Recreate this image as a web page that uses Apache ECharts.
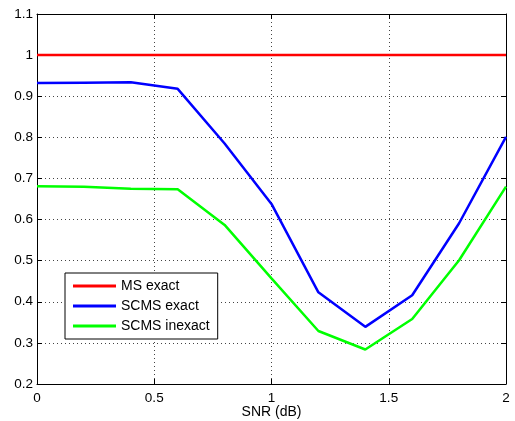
<!DOCTYPE html>
<html>
<head>
<meta charset="utf-8">
<script src="https://cdn.jsdelivr.net/npm/echarts@6/dist/echarts.min.js"></script>
<style>
  html, body { margin: 0; padding: 0; background: #fff; }
  #chart { width: 515px; height: 421px; }
</style>
</head>
<body>
<div id="chart"></div>
<script>
// SNR values (dB)
const snr = [0, 0.2, 0.4, 0.6, 0.8, 1.0, 1.2, 1.4, 1.6, 1.8, 2.0];
const msExact = [1, 1, 1, 1, 1, 1, 1, 1, 1, 1, 1];
const scmsExact = [0.932, 0.933, 0.934, 0.918, 0.785, 0.638, 0.423, 0.339, 0.416, 0.591, 0.801];
const scmsInexact = [0.681, 0.680, 0.675, 0.674, 0.587, 0.457, 0.329, 0.284, 0.358, 0.501, 0.680];
const seriesNames = ['MS exact', 'SCMS exact', 'SCMS inexact'];
const seriesColors = ['#ff0000', '#0000ff', '#00ff00'];

const font = "'Liberation Sans', Arial, sans-serif";
const pairs = arr => snr.map((x, i) => [x, arr[i]]);

const gridLine = { show: true, lineStyle: { color: '#444', type: [1, 3], width: 1 } };
const frame = { show: true, onZero: false, lineStyle: { color: '#000', width: 1 } };
const ticks = { show: true, inside: true, length: 5, lineStyle: { color: '#000' } };

const option = {
  animation: false,
  backgroundColor: '#fff',
  grid: { left: 37, right: 9, top: 14, bottom: 37, containLabel: false, outerBoundsMode: 'none' },
  legend: {
    orient: 'vertical',
    left: 65,
    top: 273,
    padding: [6, 8, 6, 8],
    itemGap: 6,
    itemWidth: 43,
    itemHeight: 3,
    icon: 'rect',
    borderColor: '#000',
    borderWidth: 1,
    backgroundColor: '#fff',
    textStyle: { fontFamily: font, fontSize: 14, color: '#000', lineHeight: 14, padding: [0, 0, 0, 0] },
    data: seriesNames
  },
  xAxis: [
    {
      type: 'value', min: 0, max: 2, interval: 0.5,
      name: 'SNR (dB)', nameLocation: 'middle', nameGap: 21, nameMoveOverlap: false,
      nameTextStyle: { fontFamily: font, fontSize: 14, color: '#000' },
      axisLine: frame, axisTick: ticks, splitLine: gridLine,
      axisLabel: { fontFamily: font, fontSize: 13.5, color: '#000', margin: 7 }
    },
    {
      type: 'value', position: 'top', min: 0, max: 2, interval: 0.5,
      axisLine: frame, axisTick: ticks, splitLine: { show: false },
      axisLabel: { show: false }
    }
  ],
  yAxis: [
    {
      type: 'value', min: 0.2, max: 1.1, interval: 0.1,
      axisLine: frame, axisTick: ticks, splitLine: gridLine,
      axisLabel: { fontFamily: font, fontSize: 13.5, color: '#000', margin: 4 }
    },
    {
      type: 'value', position: 'right', min: 0.2, max: 1.1, interval: 0.1,
      axisLine: frame, axisTick: ticks, splitLine: { show: false },
      axisLabel: { show: false }
    }
  ],
  series: [msExact, scmsExact, scmsInexact].map((arr, i) => ({
    name: seriesNames[i],
    type: 'line',
    data: pairs(arr),
    showSymbol: false,
    symbol: 'none',
    color: seriesColors[i],
    lineStyle: { color: seriesColors[i], width: 2.5 },
    z: 3
  }))
};

const chart = echarts.init(document.getElementById('chart'));
chart.setOption(option);
</script>
</body>
</html>
